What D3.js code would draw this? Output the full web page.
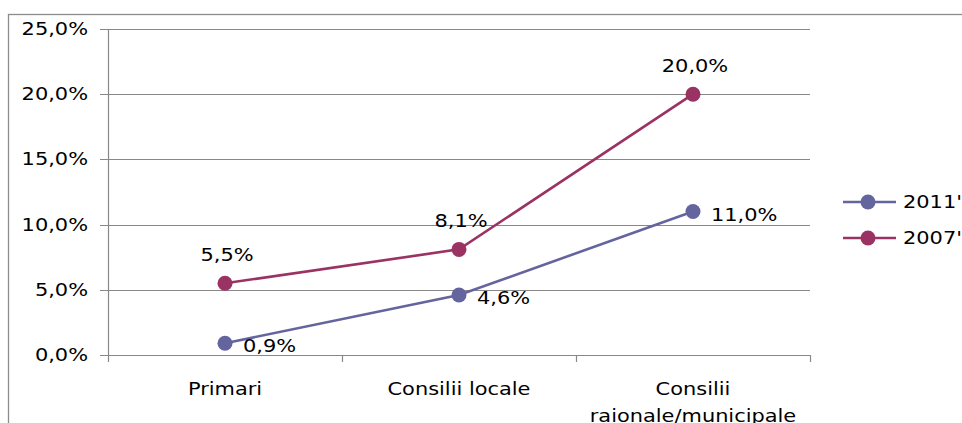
<!DOCTYPE html>
<html>
<head>
<meta charset="utf-8">
<script src="https://cdn.jsdelivr.net/npm/d3@7"></script>
<style>
  body { margin: 0; background: #fff; }
  svg { display: block; }
  text { font-family: "DejaVu Sans", Verdana, sans-serif; fill: #000; }
</style>
</head>
<body>
<div id="chart"></div>
<script>
// chart data
var categories = ["Primari", "Consilii locale", "Consilii raionale/municipale"];
var seriesNames = ["2011'", "2007'"];
var values2011 = [0.9, 4.6, 11.0];
var values2007 = [5.5, 8.1, 20.0];
var yTicks = [0, 5, 10, 15, 20, 25];

var colors = { "2011'": "#64649e", "2007'": "#9b3264" };

var width = 962, height = 423;
var margin = { left: 108, right: 152, top: 29, bottom: 68 };
var stretch = 1.23; // the original picture is stretched horizontally

var svg = d3.select("#chart").append("svg")
    .attr("width", width)
    .attr("height", height);

// outer chart frame
svg.append("rect")
    .attr("x", 8.5).attr("y", 14.5)
    .attr("width", 1000).attr("height", 500)
    .attr("fill", "none")
    .attr("stroke", "#8c8c8c")
    .attr("stroke-width", 1.3);

var x = d3.scaleBand()
    .domain(categories)
    .range([margin.left, width - margin.right]);

var y = d3.scaleLinear()
    .domain([0, 25])
    .range([height - margin.bottom, margin.top]);

// helper to place horizontally stretched text
function label(g, tx, ty, str, anchor) {
    return g.append("text")
        .attr("transform", "translate(" + tx + "," + ty + ") scale(" + stretch + ",1)")
        .attr("text-anchor", anchor || "start")
        .style("font-size", "17px")
        .text(str);
}

var grid = svg.append("g");
yTicks.forEach(function(t) {
    grid.append("line")
        .attr("x1", margin.left - 8).attr("x2", width - margin.right)
        .attr("y1", Math.round(y(t)) + 0.5).attr("y2", Math.round(y(t)) + 0.5)
        .attr("stroke", "#888")
        .attr("stroke-width", 1.2);
    label(grid, 88, y(t) + 6, d3.format(".1f")(t).replace(".", ",") + "%", "end");
});

// y axis line
grid.append("line")
    .attr("x1", margin.left + 0.5).attr("x2", margin.left + 0.5)
    .attr("y1", y(25)).attr("y2", y(0) + 7)
    .attr("stroke", "#888").attr("stroke-width", 1.2);

// x axis ticks at category boundaries
categories.forEach(function(c) {
    var bx = x(c) + x.bandwidth();
    grid.append("line")
        .attr("x1", Math.round(bx) + 0.5).attr("x2", Math.round(bx) + 0.5)
        .attr("y1", y(0)).attr("y2", y(0) + 7)
        .attr("stroke", "#888").attr("stroke-width", 1.2);
});

// category labels
categories.forEach(function(c, i) {
    var cx = x(c) + x.bandwidth() / 2;
    if (i === 2) {
        label(svg, cx, 395, "Consilii", "middle");
        label(svg, cx, 422, "raionale/municipale", "middle");
    } else {
        label(svg, cx, 395, c, "middle");
    }
});

var line = d3.line()
    .x(function(d, i) { return x(categories[i]) + x.bandwidth() / 2; })
    .y(function(d) { return y(d); });

function fmt(v) { return d3.format(".1f")(v).replace(".", ",") + "%"; }

function drawSeries(vals, name, labelPos) {
    var g = svg.append("g");
    g.append("path")
        .datum(vals)
        .attr("d", line)
        .attr("fill", "none")
        .attr("stroke", colors[name])
        .attr("stroke-width", 2.6);
    vals.forEach(function(v, i) {
        var cx = x(categories[i]) + x.bandwidth() / 2;
        g.append("circle")
            .attr("cx", cx).attr("cy", y(v))
            .attr("r", 7.5)
            .attr("fill", colors[name]);
        if (labelPos === "above") {
            label(g, cx + 2, y(v) - 22, fmt(v), "middle");
        } else {
            label(g, cx + 18, y(v) + 9, fmt(v), "start");
        }
    });
}

drawSeries(values2011, "2011'", "right");
drawSeries(values2007, "2007'", "above");

// legend
var legend = svg.append("g");
seriesNames.forEach(function(name, i) {
    var ly = 202 + i * 36;
    legend.append("line")
        .attr("x1", 843).attr("x2", 896)
        .attr("y1", ly).attr("y2", ly)
        .attr("stroke", colors[name]).attr("stroke-width", 2.6);
    legend.append("circle")
        .attr("cx", 868).attr("cy", ly).attr("r", 7.5)
        .attr("fill", colors[name]);
    label(legend, 903, ly + 6, name, "start");
});
</script>
</body>
</html>
